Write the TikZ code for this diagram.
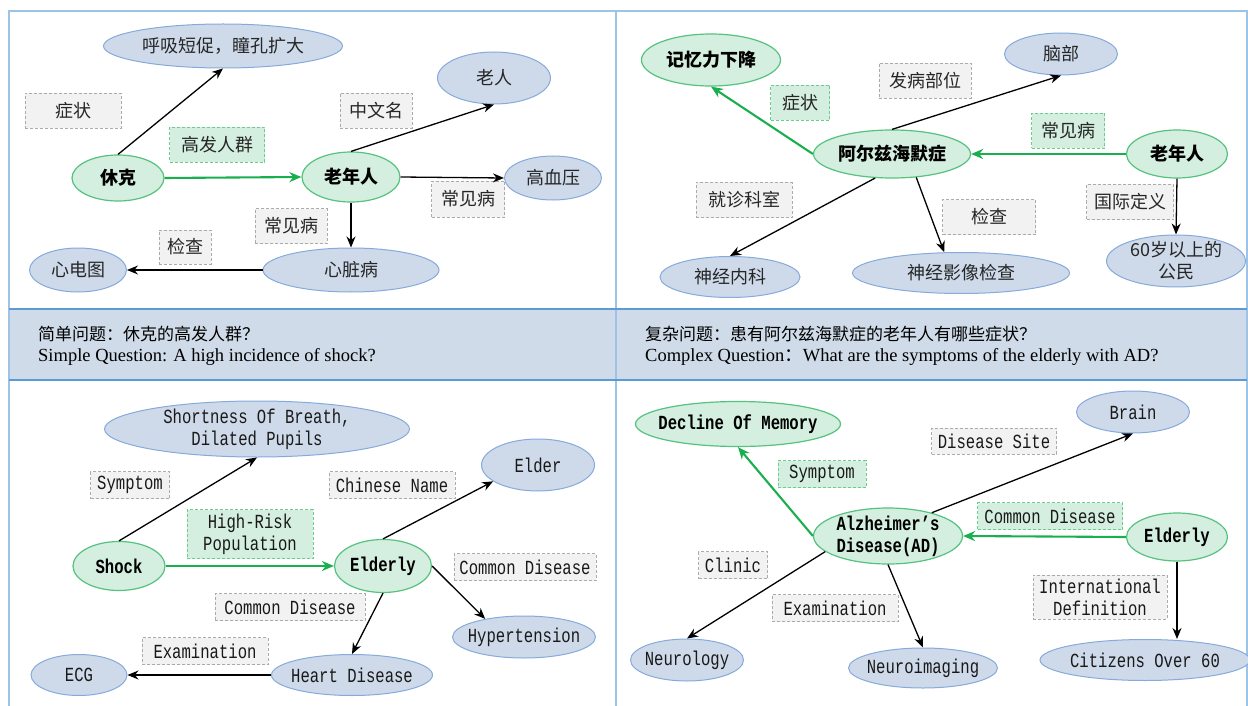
\documentclass[tikz,border=0pt]{standalone}
\usepackage{fontspec}
\setmainfont{Liberation Serif}
\newfontfamily\cjk{Noto Sans CJK SC}
\newfontfamily\monof[FakeStretch=0.78]{Liberation Mono}
\usetikzlibrary{shapes.geometric,arrows.meta,calc}
\definecolor{bluefill}{HTML}{CEDAEA}
\definecolor{bluebd}{HTML}{86AADB}
\definecolor{greenfill}{HTML}{D4EEDF}
\definecolor{greenbd}{HTML}{55C27F}
\definecolor{garrow}{HTML}{1AAF4E}
\definecolor{greyfill}{HTML}{F2F2F2}
\definecolor{greybd}{HTML}{ABABAB}
\definecolor{glabbd}{HTML}{6CCB8F}
\definecolor{bandfill}{HTML}{CFDBE8}
\definecolor{bandline}{HTML}{5B9BD5}
\definecolor{frame}{HTML}{9DC3E6}
\tikzset{
  bnode/.style={ellipse, draw=bluebd, fill=bluefill, line width=1pt, inner sep=0pt},
  gnode/.style={ellipse, draw=greenbd, fill=greenfill, line width=1.2pt, inner sep=0pt},
  glab/.style={rectangle, draw=greybd, dash pattern=on 3pt off 2pt, fill=greyfill, line width=0.9pt, inner sep=0pt},
  gglab/.style={rectangle, draw=glabbd, dash pattern=on 3pt off 2pt, fill=greenfill, line width=0.9pt, inner sep=0pt},
  arr/.style={-{Stealth[length=11pt,width=9pt]}, line width=1.3pt, black},
  garr/.style={-{Stealth[length=12pt,width=10pt]}, line width=2.1pt, garrow},
  zh/.style={font=\cjk\fontsize{18}{22}\selectfont, text=black!85},
  zhb/.style={font=\cjk\bfseries\fontsize{18}{22}\selectfont, text=black},
  en/.style={font=\monof\fontsize{20}{22}\selectfont, text=black!90, align=center},
  enb/.style={font=\monof\bfseries\fontsize{20}{22}\selectfont, text=black, align=center},
  qzh/.style={font=\cjk\fontsize{17}{20}\selectfont, anchor=west, inner sep=0pt},
  qen/.style={font=\fontsize{18.5}{22}\selectfont, anchor=west, inner sep=0pt},
}
\begin{document}
\begin{tikzpicture}[x=1pt,y=-1pt]
\useasboundingbox (0,0) rectangle (1248,706);
% frame and band
\fill[bandfill] (9,309) rectangle (1247,380);
\draw[frame, line width=1.4pt] (9,708) -- (9,11) -- (1247,11) -- (1247,708);
\draw[frame, line width=1.4pt] (616,11) -- (616,708);
\draw[bandline, line width=2pt] (9,309) -- (1247,309);
\draw[bandline, line width=2pt] (9,380) -- (1247,380);
\node[qzh] (q1zh) at (38,334) {简单问题：休克的高发人群？};
\node[qen] (q1en) at (38,357) {Simple Question: A high incidence of shock?};
\node[qzh] (q2zh) at (645,334) {复杂问题：患有阿尔兹海默症的老年人有哪些症状？};
\node[qen] (q2en) at (645,357) {Complex Question{\cjk ：}What are the symptoms of the elderly with AD?};

% ---------- top-left ----------
\node[bnode, minimum width=239, minimum height=44, label={[zh]center:呼吸短促，瞳孔扩大}] (aHuxi) at (223,46) {};
\node[gnode, minimum width=92, minimum height=46, label={[zhb]center:休克}] (aXiuke) at (118,178) {};
\node[gnode, minimum width=98, minimum height=50, label={[zhb]center:老年人}] (aLnr) at (351,177) {};
\node[bnode, minimum width=113, minimum height=52, label={[zh]center:老人}] (aLr) at (494,78) {};
\node[bnode, minimum width=97, minimum height=44, label={[zh]center:高血压}] (aGxy) at (553,178) {};
\node[bnode, minimum width=176, minimum height=44, label={[zh]center:心脏病}] (aXzb) at (351,270) {};
\node[bnode, minimum width=97, minimum height=44, label={[zh]center:心电图}] (aXdt) at (78,270) {};
\node[glab, zh, minimum width=96, minimum height=35] (aL1) at (73,111) {症状};
\node[gglab, zh, minimum width=95, minimum height=35] (aL2) at (217,145) {高发人群};
\node[glab, zh, minimum width=72, minimum height=35] (aL3) at (376,111) {中文名};
\node[glab, zh, minimum width=73, minimum height=36] (aL4) at (468,199) {常见病};
\node[glab, zh, minimum width=72, minimum height=35] (aL5) at (291,226) {常见病};
\node[glab, zh, minimum width=52, minimum height=34] (aL6) at (185,247) {检查};
\draw[arr] (aXiuke.north) -- (aHuxi.south);
\draw[garr] (aXiuke.east) -- (aLnr.west);
\draw[arr] (aLnr.north) -- (aLr.south);
\draw[arr] (aLnr.east) -- (aGxy.west);
\draw[arr] (aLnr.south) -- (aXzb.north);
\draw[arr] (aXzb.west) -- (aXdt.east);

% ---------- top-right ----------
\node[gnode, minimum width=139, minimum height=52, label={[zhb]center:记忆力下降}] (bJyl) at (711,60) {};
\node[bnode, minimum width=113, minimum height=42, label={[zh]center:脑部}] (bNb) at (1061,54) {};
\node[gnode, minimum width=157, minimum height=48, label={[zhb]center:阿尔兹海默症}] (bAD) at (892,154) {};
\node[gnode, minimum width=101, minimum height=48, label={[zhb]center:老年人}] (bLnr) at (1177,154) {};
\node[bnode, minimum width=140, minimum height=41, label={[zh]center:神经内科}] (bSjnk) at (730,277) {};
\node[bnode, minimum width=217, minimum height=41, label={[zh]center:神经影像检查}] (bSjyx) at (961,273) {};
\node[bnode, minimum width=139, minimum height=52, label={[zh,align=center]center:60岁以上的\\公民}] (b60) at (1176,261) {};
\node[glab, zh, minimum width=92, minimum height=35] (bL1) at (925,81) {发病部位};
\node[gglab, zh, minimum width=59, minimum height=35] (bL2) at (800,103) {症状};
\node[gglab, zh, minimum width=73, minimum height=35] (bL3) at (1068,131) {常见病};
\node[glab, zh, minimum width=96, minimum height=35] (bL4) at (744,200) {就诊科室};
\node[glab, zh, minimum width=93, minimum height=35] (bL5) at (989,217) {检查};
\node[glab, zh, minimum width=87, minimum height=35] (bL6) at (1130,202) {国际定义};
\draw[garr] (bAD.west) -- (bJyl.south);
\draw[arr] (bAD.north) -- (bNb.south);
\draw[garr] (bLnr.west) -- (bAD.east);
\draw[arr] (bAD.-125) -- (bSjnk.north);
\draw[arr] (bAD.-44) -- (bSjyx.129);
\draw[arr] (bLnr.south) -- (b60.north);

% ---------- bottom-left ----------
\node[bnode, minimum width=305, minimum height=56, label={[en]center:Shortness Of Breath,\\Dilated Pupils}] (cSob) at (257,429) {};
\node[gnode, minimum width=92, minimum height=49, label={[enb]center:Shock}] (cShock) at (119,566) {};
\node[gnode, minimum width=97, minimum height=53, label={[enb]center:Elderly}] (cEly) at (383,566) {};
\node[bnode, minimum width=113, minimum height=52, label={[en]center:Elder}] (cElder) at (538,465) {};
\node[bnode, minimum width=143, minimum height=42, label={[en]center:Hypertension}] (cHyp) at (524,637) {};
\node[bnode, minimum width=161, minimum height=41, label={[en]center:Heart Disease}] (cHeart) at (352,675) {};
\node[bnode, minimum width=96, minimum height=41, label={[en]center:ECG}] (cEcg) at (79,675) {};
\node[glab, en, minimum width=79, minimum height=27] (cL1) at (130,485) {Symptom};
\node[gglab, en, minimum width=126, minimum height=49] (cL2) at (250,534) {High-Risk\\Population};
\node[glab, en, minimum width=126, minimum height=27] (cL3) at (392,485) {Chinese Name};
\node[glab, en, minimum width=142, minimum height=27] (cL4) at (525,567) {Common Disease};
\node[glab, en, minimum width=150, minimum height=27] (cL5) at (290,607) {Common Disease};
\node[glab, en, minimum width=126, minimum height=27] (cL6) at (205,651) {Examination};
\draw[arr] (cShock.north) -- (cSob.south);
\draw[garr] (cShock.east) -- (cEly.west);
\draw[arr] (cEly.north) -- (cElder.200);
\draw[arr] (cEly.east) -- (cHyp.155);
\draw[arr] (cEly.south) -- (cHeart.north);
\draw[arr] (cHeart.west) -- (cEcg.east);

% ---------- bottom-right ----------
\node[gnode, minimum width=205, minimum height=45, label={[enb]center:Decline Of Memory}] (dDom) at (738,424) {};
\node[bnode, minimum width=113, minimum height=42, label={[en]center:Brain}] (dBrain) at (1133,412) {};
\node[gnode, minimum width=149, minimum height=56, label={[enb]center:Alzheimer’s\\Disease(AD)}] (dAD) at (888,536) {};
\node[gnode, minimum width=101, minimum height=48, label={[enb]center:Elderly}] (dEly) at (1177,537) {};
\node[bnode, minimum width=113, minimum height=42, label={[en]center:Neurology}] (dNeu) at (687,660) {};
\node[bnode, minimum width=149, minimum height=40, label={[en]center:Neuroimaging}] (dNim) at (923,668) {};
\node[bnode, minimum width=210, minimum height=41, label={[en]center:Citizens Over 60}] (dCit) at (1145,660) {};
\node[glab, en, minimum width=125, minimum height=26] (dL1) at (994,441) {Disease Site};
\node[gglab, en, minimum width=88, minimum height=27] (dL2) at (822,474) {Symptom};
\node[gglab, en, minimum width=145, minimum height=27] (dL3) at (1050,516) {Common Disease};
\node[glab, en, minimum width=69, minimum height=27] (dL4) at (733,565) {Clinic};
\node[glab, en, minimum width=126, minimum height=27] (dL5) at (835,608) {Examination};
\node[glab, en, minimum width=134, minimum height=44] (dL6) at (1100,597) {International\\Definition};
\draw[garr] (dAD.west) -- (dDom.south);
\draw[arr] (dAD.28) -- (dBrain.south);
\draw[garr] (dEly.west) -- (dAD.east);
\draw[arr] (dAD.194) -- (dNeu.north);
\draw[arr] (dAD.south) -- (dNim.north);
\draw[arr] (dEly.south) -- (dEly.south |- dCit.north);
\end{tikzpicture}
\end{document}
